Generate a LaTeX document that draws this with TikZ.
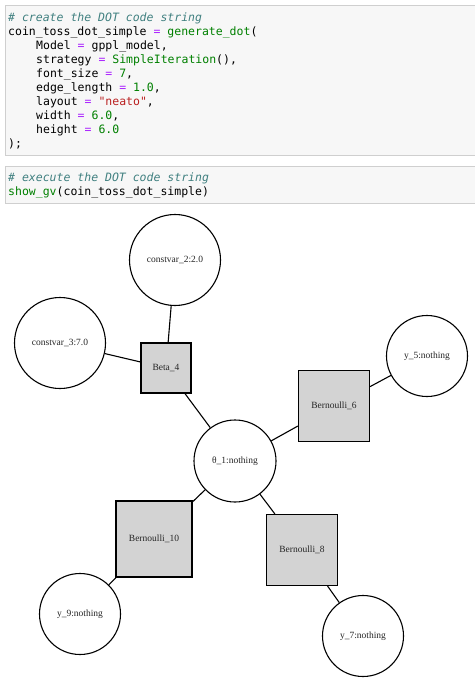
\documentclass[tikz,border=0pt]{standalone}
\usepackage{fontspec}
\setmainfont{Liberation Serif}
\setmonofont{DejaVu Sans Mono}
\usepackage{xcolor}
\definecolor{cellbg}{HTML}{F7F7F7}
\definecolor{cellframe}{HTML}{CFCFCF}
\definecolor{cmt}{HTML}{408080}
\definecolor{op}{HTML}{AA22FF}
\definecolor{fn}{HTML}{008000}
\definecolor{str}{HTML}{BA2121}
\definecolor{factorgray}{HTML}{D3D3D3}
\newcommand{\cm}[1]{\textcolor{cmt}{\itshape #1}}
\newcommand{\eq}{\textcolor{op}{=}}
\newcommand{\gr}[1]{\textcolor{fn}{#1}}

\begin{document}
\begin{tikzpicture}[x=1pt, y=-1pt,
	codeline/.style={anchor=base west, inner sep=0pt, font=\ttfamily\fontsize{11.5}{14}\selectfont},
	cell/.style={fill=cellbg, draw=cellframe, line width=0.8pt},
	varnode/.style={circle, draw, line width=1.1pt, fill=white, inner sep=0pt, font=\fontsize{9.5}{11}\selectfont, text=black!85},
	factor/.style={rectangle, draw, line width=1.1pt, fill=factorgray, inner sep=0pt, font=\fontsize{9.5}{11}\selectfont, text=black!85},
	edge/.style={line width=1.1pt}]
	\useasboundingbox (0, 0) rectangle (474, 695);
	% Code cells:
	\draw[cell] (5, 5) rectangle (478, 155);
	\draw[cell] (5, 166) rectangle (478, 203);
	\node[codeline] (c1) at (8, 21.5){\cm{\# create the DOT code string}};
	\node[codeline] (c2) at (8, 35.5){coin\_toss\_dot\_simple \eq{} \gr{generate\_dot}(};
	\node[codeline] (c3) at (36, 49.5){Model \eq{} gppl\_model,};
	\node[codeline] (c4) at (36, 63.5){strategy \eq{} \gr{SimpleIteration}(),};
	\node[codeline] (c5) at (36, 77.5){font\_size \eq{} \gr{7},};
	\node[codeline] (c6) at (36, 91.5){edge\_length \eq{} \gr{1.0},};
	\node[codeline] (c7) at (36, 105.5){layout \eq{} \textcolor{str}{"neato"},};
	\node[codeline] (c8) at (36, 119.5){width \eq{} \gr{6.0},};
	\node[codeline] (c9) at (36, 133.5){height \eq{} \gr{6.0}};
	\node[codeline] (c10) at (8, 147.5){);};
	\node[codeline] (d1) at (8, 181.5){\cm{\# execute the DOT code string}};
	\node[codeline] (d2) at (8, 195.5){\gr{show\_gv}(coin\_toss\_dot\_simple)};
	% Graph nodes:
	\node[varnode, minimum size=91] (cv2) at (175, 260){constvar\_2:2.0};
	\node[varnode, minimum size=91] (cv3) at (60, 343){constvar\_3:7.0};
	\node[factor, minimum size=50] (beta4) at (166, 368){Beta\_4};
	\node[varnode, minimum size=82] (theta1) at (235, 461){θ\_1:nothing};
	\node[factor, minimum size=71] (bern6) at (334, 406){Bernoulli\_6};
	\node[varnode, minimum size=81] (y5) at (427, 356){y\_5:nothing};
	\node[factor, minimum size=76] (bern10) at (154, 539){Bernoulli\_10};
	\node[varnode, minimum size=81] (y9) at (80, 614){y\_9:nothing};
	\node[factor, minimum size=71] (bern8) at (302, 550){Bernoulli\_8};
	\node[varnode, minimum size=81] (y7) at (363, 636){y\_7:nothing};
	% Edges:
	\draw[edge] (cv2) -- (beta4);
	\draw[edge] (cv3) -- (beta4);
	\draw[edge] (beta4) -- (theta1);
	\draw[edge] (theta1) -- (bern6);
	\draw[edge] (bern6) -- (y5);
	\draw[edge] (theta1) -- (bern10);
	\draw[edge] (bern10) -- (y9);
	\draw[edge] (theta1) -- (bern8);
	\draw[edge] (bern8) -- (y7);
\end{tikzpicture}
\end{document}
